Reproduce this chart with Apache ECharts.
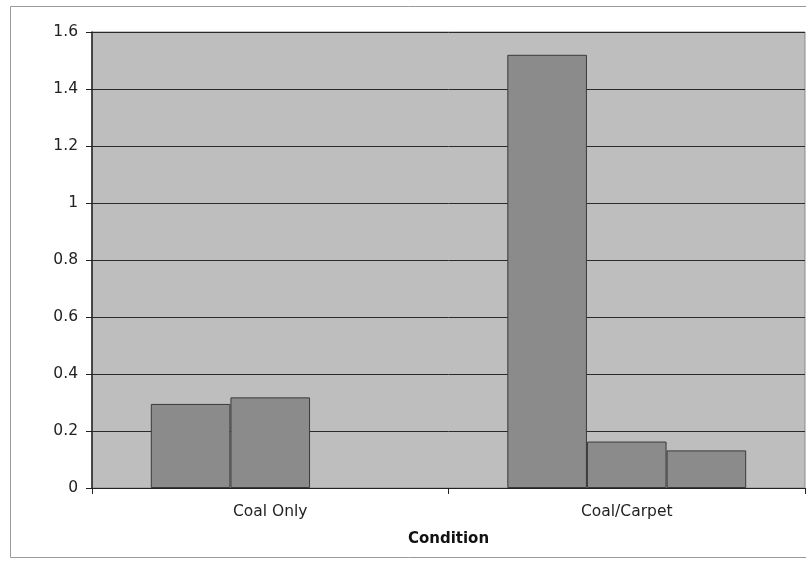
<!DOCTYPE html>
<html><head><meta charset="utf-8">
<script src="https://cdn.jsdelivr.net/npm/echarts@6/dist/echarts.min.js"></script>
<style>html,body{margin:0;padding:0;background:#fff}#c{width:806px;height:561px}</style>
</head><body><div id="c"></div>
<script>
const categories = ['Coal Only', 'Coal/Carpet'];
const series1 = [0.295, 1.52];
const series2 = [0.318, 0.163];
const series3 = [null, 0.132];
const yTicks = [0, 0.2, 0.4, 0.6, 0.8, 1, 1.2, 1.4, 1.6];
const xTitle = 'Condition';

const chart = echarts.init(document.getElementById('c'));
const barStyle = { color: '#8b8b8b', borderColor: '#3a3a3a', borderWidth: 1 };
const font = 'DejaVu Sans, Verdana, sans-serif';
chart.setOption({
  animation: false,
  graphic: [{ type: 'rect', shape: { x: 10.5, y: 6.5, width: 810, height: 551 }, style: { fill: 'none', stroke: '#9a9a9a', lineWidth: 1 }, silent: true }],
  grid: { left: 92, top: 32, right: 1, bottom: 73, show: true, backgroundColor: '#bebebe', borderColor: '#8a8a8a', borderWidth: 1 },
  xAxis: {
    type: 'category', data: categories,
    name: xTitle, nameLocation: 'middle', nameGap: 44,
    nameTextStyle: { fontFamily: font, fontSize: 15, fontWeight: 'bold', color: '#111' },
    axisLine: { lineStyle: { color: '#222', width: 1 } },
    axisTick: { show: true, length: 6, lineStyle: { color: '#222' } },
    axisLabel: { fontFamily: font, fontSize: 15.5, color: '#222', margin: 16 }
  },
  yAxis: {
    type: 'value', min: 0, max: 1.6, interval: 0.2,
    axisLine: { show: true, lineStyle: { color: '#222', width: 1.5 } },
    axisTick: { show: true, length: 6, lineStyle: { color: '#222' } },
    axisLabel: { fontFamily: font, fontSize: 15.5, color: '#222', margin: 14,
      formatter: v => { const t = yTicks.find(x => Math.abs(x - v) < 1e-6); return t === undefined ? '' : String(t); } },
    splitLine: { lineStyle: { color: '#2a2a2a', width: 1 } }
  },
  series: [
    { type: 'bar', data: series1, itemStyle: barStyle, barGap: '0%', barCategoryGap: '33%' },
    { type: 'bar', data: series2, itemStyle: barStyle, barGap: '0%', barCategoryGap: '33%' },
    { type: 'bar', data: series3, itemStyle: barStyle, barGap: '0%', barCategoryGap: '33%' }
  ]
});
</script></body></html>
